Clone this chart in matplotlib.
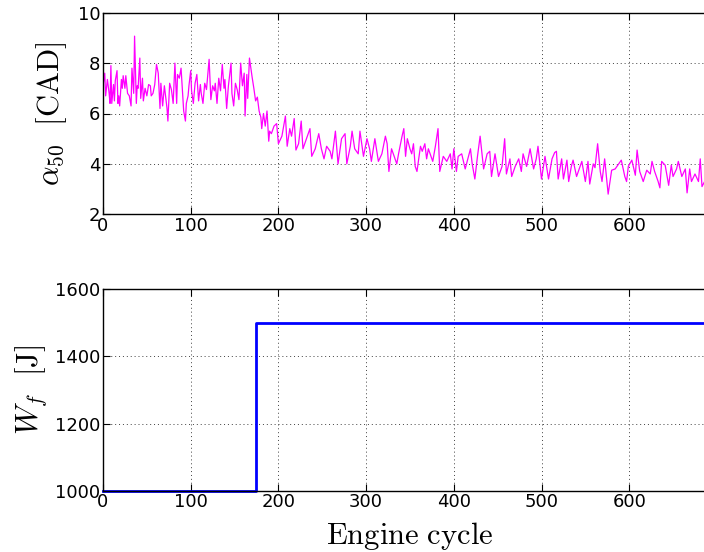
import numpy as np
import matplotlib
matplotlib.use("Agg")
import matplotlib.pyplot as plt

# combustion phasing alpha_50 [engine cycle, CAD]
alpha_cycle = [0, 2, 3, 5, 7, 8, 9, 10, 12, 13, 14, 16, 17, 18, 19, 21, 22, 23, 25, 26,
               28, 30, 32, 33, 35, 36, 38, 39, 40, 42, 43, 45, 46, 48, 50, 52, 54, 55, 57, 59,
               61, 63, 65, 66, 68, 70, 71, 73, 74, 76, 78, 80, 82, 84, 85, 87, 89, 91, 92, 94,
               95, 97, 98, 100, 101, 103, 105, 107, 109, 111, 112, 114, 116, 118, 121, 123, 125, 127, 128, 130,
               132, 134, 136, 138, 139, 141, 143, 146, 147, 149, 151, 153, 155, 157, 159, 161, 162, 164, 165, 167,
               170, 172, 174, 176, 178, 180, 181, 183, 185, 187, 189, 190, 192, 195, 198, 200, 204, 208, 210, 213,
               215, 218, 220, 223, 226, 228, 232, 236, 238, 242, 246, 249, 252, 255, 259, 261, 265, 268, 272, 276,
               278, 282, 284, 287, 291, 293, 297, 301, 304, 306, 310, 314, 318, 322, 324, 326, 329, 333, 335, 337,
               341, 343, 345, 347, 350, 352, 354, 356, 358, 362, 364, 367, 369, 371, 373, 376, 379, 382, 384, 388,
               392, 396, 398, 400, 403, 405, 409, 413, 416, 419, 421, 424, 427, 430, 434, 438, 441, 443, 447, 451,
               455, 458, 460, 464, 466, 470, 474, 477, 479, 483, 487, 491, 494, 496, 500, 504, 508, 512, 515, 517,
               519, 523, 525, 529, 531, 534, 536, 540, 544, 546, 550, 553, 555, 559, 561, 564, 567, 569, 572, 576,
               580, 584, 588, 591, 595, 597, 599, 603, 607, 609, 612, 616, 620, 624, 626, 629, 633, 635, 637, 641,
               645, 648, 650, 654, 656, 660, 664, 666, 669, 671, 675, 679, 681, 683, 686, 690]
alpha_vals = [7.1, 7.6, 6.7, 7.35, 6.8, 6.4, 7.9, 6.4, 7.15, 6.5, 7.3, 7.7, 6.4, 6.7, 6.3, 7.35, 7.0, 7.5, 7.0, 7.5,
              6.8, 6.7, 6.3, 7.8, 6.8, 9.07, 6.4, 7.1, 7.0, 8.2, 6.6, 7.4, 6.5, 7.0, 6.7, 7.15, 7.1, 6.7, 6.8, 7.15,
              7.95, 7.6, 6.2, 7.2, 6.3, 7.1, 6.8, 6.2, 5.7, 7.2, 6.95, 6.4, 8.0, 6.4, 7.55, 7.4, 7.8, 6.7, 6.1, 5.7,
              6.4, 6.7, 7.1, 7.7, 6.9, 6.4, 7.2, 7.55, 6.5, 7.15, 6.8, 6.4, 7.2, 6.95, 8.15, 6.55, 7.1, 6.9, 7.2, 6.4,
              7.4, 6.9, 7.95, 7.0, 7.35, 6.2, 7.1, 8.0, 6.8, 6.3, 7.2, 6.95, 6.55, 8.0, 7.1, 7.6, 5.9, 7.55, 6.6, 8.2,
              7.45, 7.0, 6.5, 6.65, 6.1, 5.85, 5.4, 6.0, 5.5, 6.1, 4.9, 5.3, 5.2, 5.5, 5.6, 4.8, 5.1, 5.9, 4.7, 5.4,
              5.1, 5.8, 4.55, 4.8, 5.7, 4.6, 5.0, 5.4, 4.3, 4.6, 5.2, 4.6, 4.2, 4.7, 4.5, 4.2, 5.3, 4.0, 5.0, 5.2,
              4.0, 4.7, 5.3, 4.6, 4.4, 5.3, 4.3, 5.0, 4.6, 4.1, 5.0, 4.1, 4.4, 5.1, 4.8, 3.7, 4.6, 4.2, 4.0, 4.4,
              5.1, 5.4, 4.3, 5.0, 4.6, 4.4, 4.8, 3.9, 3.7, 4.7, 4.5, 4.8, 4.2, 4.6, 4.4, 4.1, 4.7, 5.4, 3.7, 4.3,
              4.1, 4.4, 3.8, 4.6, 3.7, 4.3, 4.4, 3.8, 4.2, 4.6, 4.0, 3.4, 4.3, 5.1, 3.8, 4.4, 4.5, 3.5, 4.4, 3.5,
              3.9, 5.0, 3.6, 4.2, 3.5, 3.9, 4.2, 3.7, 4.4, 3.9, 4.6, 3.8, 4.2, 4.7, 3.4, 4.3, 3.4, 4.2, 4.45, 4.5,
              3.4, 4.2, 3.4, 4.15, 3.3, 3.9, 4.15, 3.5, 3.9, 4.1, 3.3, 4.1, 3.2, 4.0, 3.85, 4.8, 3.7, 3.3, 4.2, 2.8,
              3.75, 3.8, 4.0, 4.15, 3.5, 3.3, 3.9, 4.15, 3.55, 4.55, 3.7, 3.3, 3.75, 3.6, 4.1, 3.7, 3.3, 3.05, 4.1, 3.95,
              3.15, 3.95, 3.5, 3.8, 4.1, 3.5, 3.8, 2.85, 3.8, 3.3, 3.6, 3.3, 4.2, 3.1, 3.3, 3.6]

# injected fuel energy: step change
wf_cycle = [0, 175, 690]
wf_vals = [1000, 1500, 1500]

x_ticks = [0, 100, 200, 300, 400, 500, 600]

plt.rcParams['mathtext.fontset'] = 'cm'
plt.rcParams['font.family'] = 'DejaVu Sans'

W, H = 704, 552
fig = plt.figure(figsize=(W / 100, H / 100), dpi=100)

x0 = 103 / W
xw = 700 * 0.877 / W
ax1 = fig.add_axes([x0, 1 - 214.3 / H, xw, (214.3 - 12.7) / H])
ax2 = fig.add_axes([x0, 1 - 490.7 / H, xw, (490.7 - 289.3) / H])

ax1.plot(alpha_cycle, alpha_vals, color=(1, 0, 1), lw=0.9)
ax1.set_ylim(2, 10)
ax1.set_yticks([2, 4, 6, 8, 10])
ax1.set_ylabel(r"$\alpha_{50}\ \ \mathrm{[CAD]}$", fontsize=22, labelpad=6)

ax2.step(wf_cycle, wf_vals, where='post', color=(0, 0, 1), lw=2, clip_on=False)
ax2.set_ylim(1000, 1600)
ax2.set_yticks([1000, 1200, 1400, 1600])
ax2.set_ylabel(r"$W_f\ \ \mathrm{[J]}$", fontsize=22, labelpad=4)
ax2.set_xlabel(r"$\mathrm{Engine\ cycle}$", fontsize=22, labelpad=6)

for ax in (ax1, ax2):
    ax.set_xlim(0, 700)
    ax.set_xticks(x_ticks)
    ax.grid(True, color='0.25', linestyle=(0, (1, 3)), lw=0.7)
    ax.tick_params(direction='in', length=5, top=True, right=True, labelsize=13, pad=2)
    for s in ax.spines.values():
        s.set_linewidth(1.0)

fig.savefig("out.png", dpi=100)
